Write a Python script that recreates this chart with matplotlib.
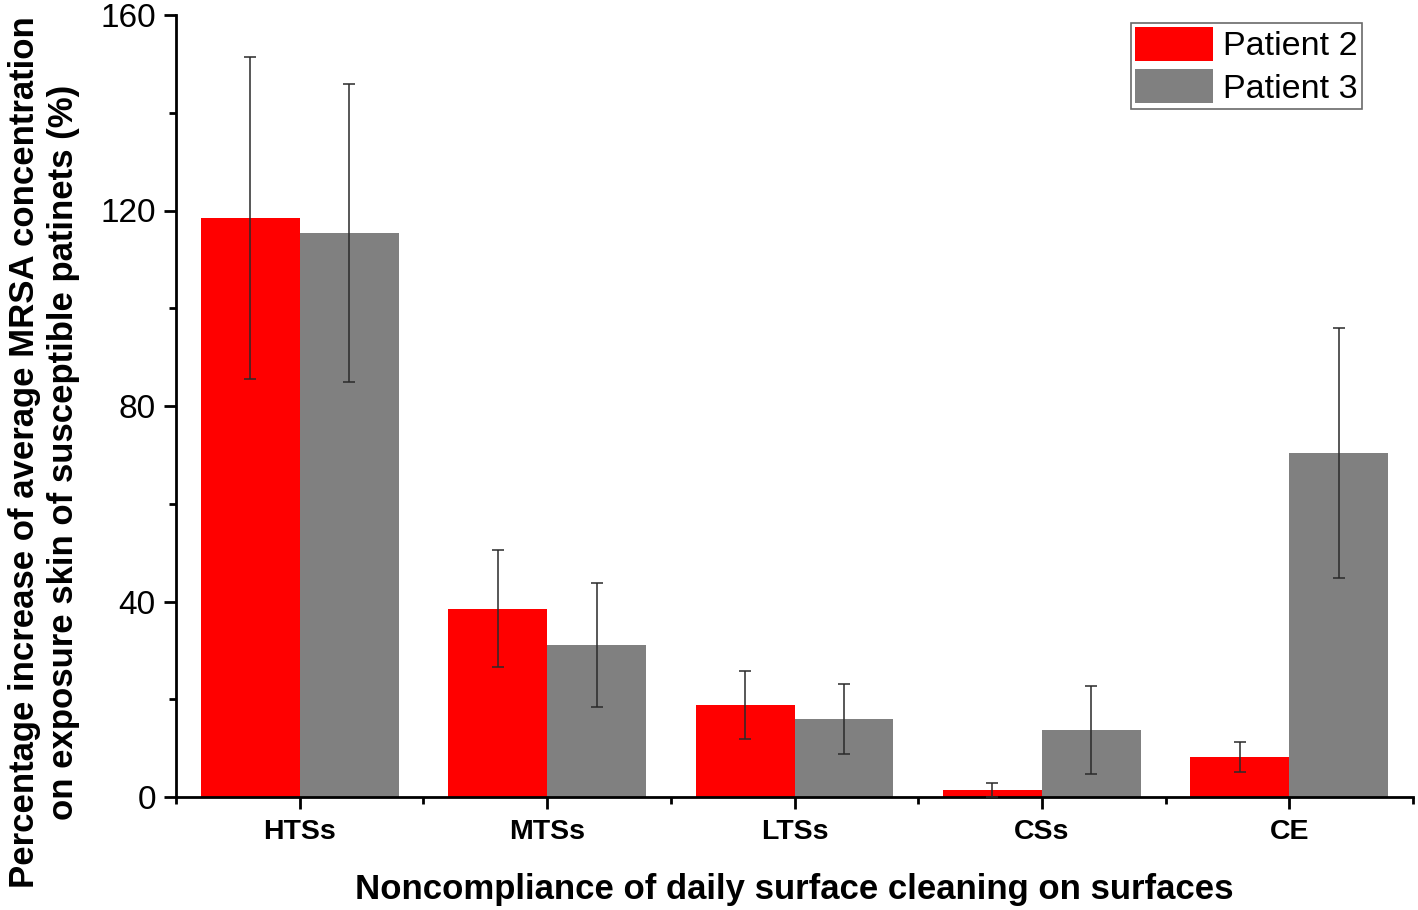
import numpy as np
import matplotlib.pyplot as plt
from matplotlib.ticker import MultipleLocator, FixedLocator

plt.rcParams['font.family'] = ['Liberation Sans', 'DejaVu Sans']

categories = ['HTSs', 'MTSs', 'LTSs', 'CSs', 'CE']
patient2 = [118.5, 38.5, 18.8, 1.4, 8.2]
patient2_err = [33.0, 12.0, 7.0, 1.4, 3.1]
patient3 = [115.4, 31.1, 16.0, 13.7, 70.4]
patient3_err = [30.5, 12.6, 7.2, 9.0, 25.5]

x = np.arange(len(categories))
w = 0.4

fig = plt.figure(figsize=(14.18, 9.10), dpi=100)
ax = fig.add_axes([176/1418, 113/910, (1413-176)/1418, (797-15)/910])

ekw = dict(ecolor='#2a2a2a', elinewidth=1.1, capsize=4.5, capthick=1.1)
ax.bar(x - w/2, patient2, w, color='#ff0000', label='Patient 2', zorder=2)
ax.bar(x + w/2, patient3, w, color='#808080', label='Patient 3', zorder=2)
ax.errorbar(x - w/2, patient2, yerr=patient2_err, fmt='none', zorder=3, **ekw)
ax.errorbar(x + w/2, patient3, yerr=patient3_err, fmt='none', zorder=3, **ekw)

ax.set_xlim(-0.5, 4.5)
ax.set_ylim(0, 160)
ax.set_xticks(x)
ax.set_xticklabels(categories, fontsize=20.5, fontweight='bold')
ax.xaxis.set_minor_locator(FixedLocator(np.arange(-0.5, 5.0, 1.0)))
ax.yaxis.set_major_locator(MultipleLocator(40))
ax.yaxis.set_minor_locator(MultipleLocator(20))
ax.tick_params(axis='y', labelsize=24, pad=6)
ax.tick_params(axis='x', pad=7)
ax.tick_params(which='major', direction='out', length=8.5, width=2)
ax.tick_params(which='minor', direction='out', length=5, width=2)
for s in ['top', 'right']:
    ax.spines[s].set_visible(False)
for s in ['left', 'bottom']:
    ax.spines[s].set_linewidth(2)

ax.set_xlabel('Noncompliance of daily surface cleaning on surfaces',
              fontsize=25, fontweight='bold')
ax.xaxis.set_label_coords(0.5, -0.097)
ax.set_ylabel('Percentage increase of average MRSA concentration\n'
              'on exposure skin of susceptible patinets (%)',
              fontsize=25, fontweight='bold', linespacing=1.2)
ax.yaxis.set_label_coords(-0.078, 0.441)

leg = ax.legend(loc='upper right', bbox_to_anchor=(1.0 - 51/1237, 1.0 - 8/782),
                fontsize=24.5, frameon=True, fancybox=False, edgecolor='#444444',
                handlelength=2.3, handleheight=1.15, handletextpad=0.3,
                borderpad=0.12, labelspacing=0.2, borderaxespad=0)
leg.get_frame().set_linewidth(1.2)

fig.savefig('out.png', dpi=100)
